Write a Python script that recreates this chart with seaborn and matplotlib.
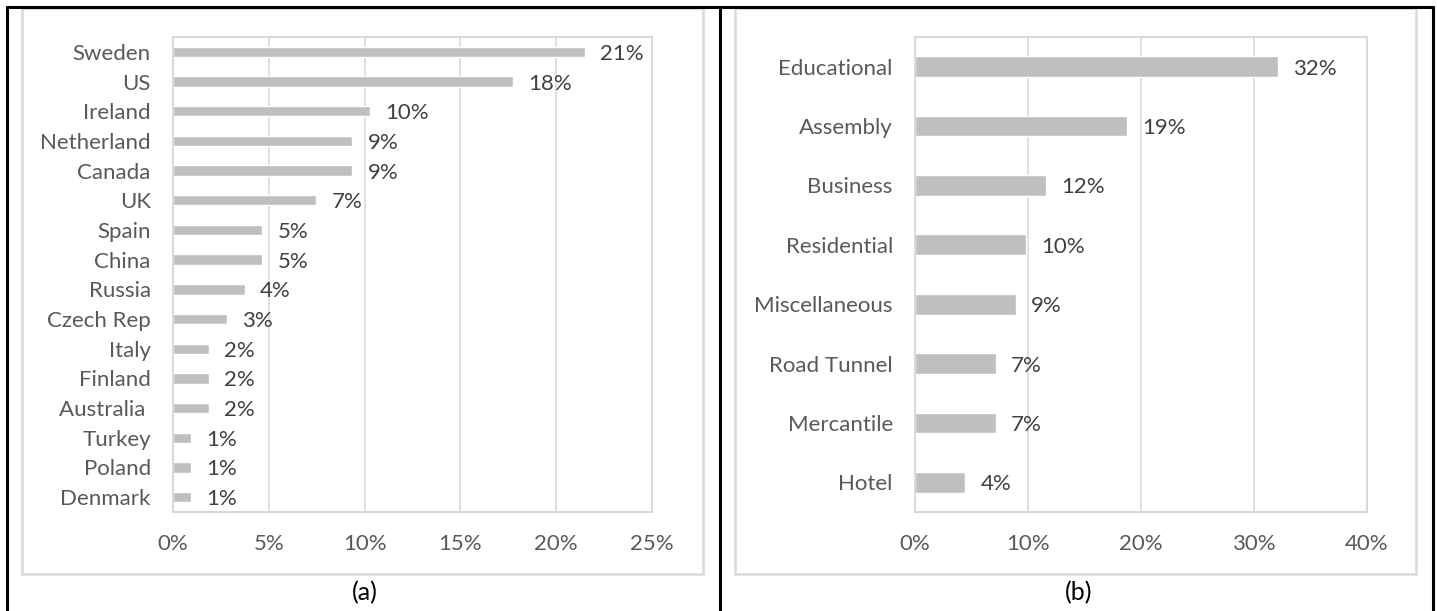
import matplotlib
matplotlib.use("Agg")
import matplotlib.pyplot as plt
import seaborn as sns
import pandas as pd
from matplotlib.patches import Rectangle
from matplotlib.lines import Line2D
from matplotlib.ticker import FuncFormatter

# ---- data ----
countries = ["Sweden", "US", "Ireland", "Netherland", "Canada", "UK", "Spain", "China",
             "Russia", "Czech Rep", "Italy", "Finland", "Australia ", "Turkey", "Poland", "Denmark"]
country_pct = [21.49, 17.76, 10.28, 9.35, 9.35, 7.48, 4.67, 4.67,
               3.74, 2.80, 1.87, 1.87, 1.87, 0.93, 0.93, 0.93]
country_ticks = [0, 5, 10, 15, 20, 25]

occupancies = ["Educational", "Assembly", "Business", "Residential", "Miscellaneous",
               "Road Tunnel", "Mercantile", "Hotel"]
occupancy_pct = [32.14, 18.75, 11.61, 9.82, 8.93, 7.14, 7.14, 4.46]
occupancy_ticks = [0, 10, 20, 30, 40]

captions = ["(a)", "(b)"]

# ---- style ----
sns.set_style("white")
plt.rcParams["font.family"] = ["Lato", "DejaVu Sans"]

BAR = "#BFBFBF"
GRID = "#D9D9D9"
TICK_TXT = "#595959"
LABEL_TXT = "#404040"
FS = 16

fig = plt.figure(figsize=(14.37, 6.11), dpi=100)

W, H = 1437, 611


def fx(x):
    return x / W


def fy(y):
    return 1 - y / H


def panel(rect, cats, vals, ticks):
    ax = fig.add_axes(rect)
    df = pd.DataFrame({"cat": cats, "val": vals})
    sns.barplot(data=df, y="cat", x="val", orient="h", color=BAR, width=0.35,
                saturation=1, ax=ax)
    ax.set_xlim(ticks[0], ticks[-1])
    ax.set_xticks(ticks)
    ax.xaxis.set_major_formatter(FuncFormatter(lambda v, p: f"{v:.0f}%"))
    ax.set_xlabel("")
    ax.set_ylabel("")
    ax.grid(axis="x", color=GRID, linewidth=1.2)
    ax.set_axisbelow(True)
    for s in ax.spines.values():
        s.set_visible(True)
        s.set_color(GRID)
        s.set_linewidth(1.5)
    ax.tick_params(axis="x", length=0, pad=16, labelsize=FS, labelcolor=TICK_TXT)
    ax.tick_params(axis="y", length=0, pad=16, labelsize=FS, labelcolor=TICK_TXT)
    for c in ax.containers:
        texts = ax.bar_label(c, labels=[f"{v:.0f}%" for v in vals], padding=11,
                             fontsize=FS, color=LABEL_TXT)
        for t in texts:
            t.set_va("center_baseline")
    return ax


ax1 = panel([fx(173), fy(512), fx(652) - fx(173), fy(37) - fy(512)],
            countries, country_pct, country_ticks)
ax2 = panel([fx(915), fy(512), fx(1367) - fx(915), fy(37) - fy(512)],
            occupancies, occupancy_pct, occupancy_ticks)

# gray chart borders
for x0, x1 in [(22, 703), (735, 1416)]:
    fig.add_artist(Rectangle((fx(x0), fy(574)), fx(x1) - fx(x0), fy(8) - fy(574),
                             transform=fig.transFigure, fill=False,
                             edgecolor=GRID, linewidth=1.8))

# black table lines
for x in [7, 720, 1433]:
    fig.add_artist(Line2D([fx(x), fx(x)], [fy(7), 0], transform=fig.transFigure,
                          color="black", linewidth=2.2))
fig.add_artist(Line2D([fx(7), fx(1433)], [fy(7), fy(7)], transform=fig.transFigure,
                      color="black", linewidth=2.2))

# captions
fig.text(fx(365), fy(593), captions[0], ha="center", va="center", fontsize=18, color="black")
fig.text(fx(1079), fy(593), captions[1], ha="center", va="center", fontsize=18, color="black")

fig.savefig("out.png", dpi=100)
